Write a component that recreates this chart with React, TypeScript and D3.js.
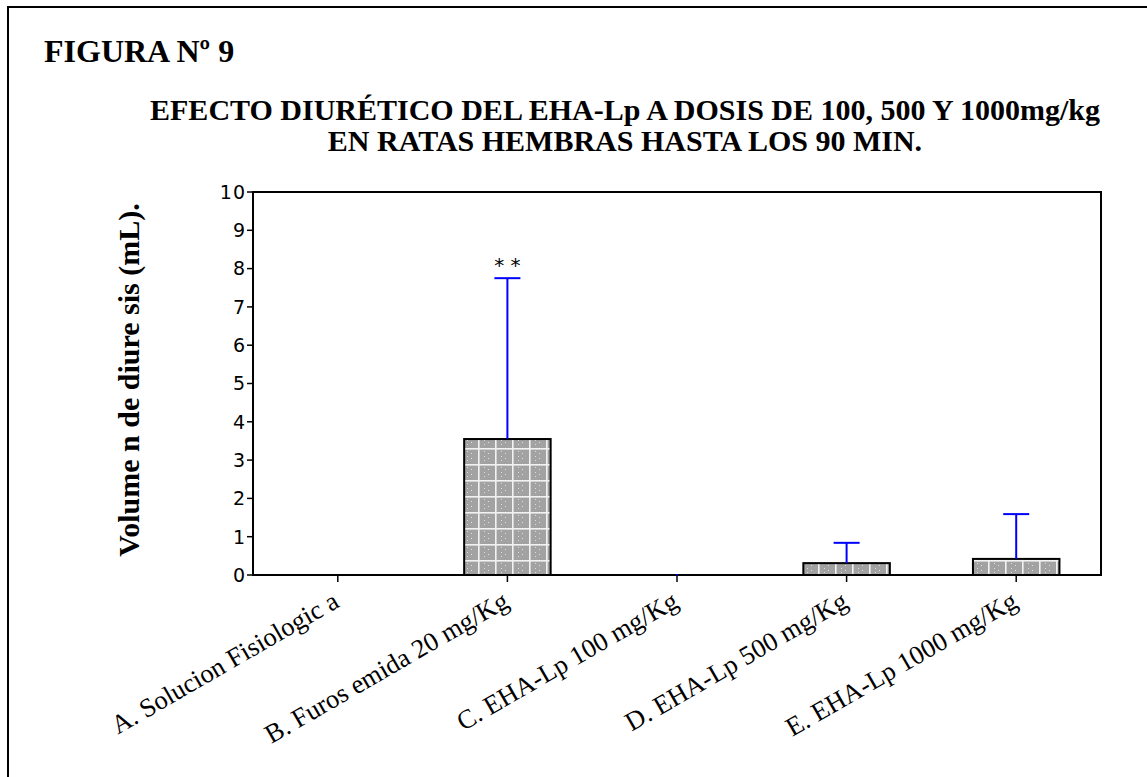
import React from "react";
import * as d3 from "d3";

// Diuretic volume (mL) per treatment group, up to 90 min
const categories = [
  "A. Solucion Fisiologic a",
  "B. Furos emida 20 mg/Kg",
  "C. EHA-Lp 100 mg/Kg",
  "D. EHA-Lp 500 mg/Kg",
  "E. EHA-Lp 1000 mg/Kg",
];
const means = [0, 3.55, 0, 0.31, 0.42];
const errorTops = [0, 7.75, 0, 0.84, 1.59];
const significance = ["", "* *", "", "", ""];
const yTicks = [0, 1, 2, 3, 4, 5, 6, 7, 8, 9, 10];

const W = 1147;
const H = 777;
const M = { left: 253, right: 1101, top: 192, bottom: 575 };

export default function App() {
  const x = d3
    .scaleBand<string>()
    .domain(categories)
    .range([M.left, M.right])
    .paddingInner(0.49)
    .paddingOuter(0.245);
  const y = d3.scaleLinear().domain([0, 10]).range([M.bottom, M.top]);
  const serif = "'Liberation Serif', 'Times New Roman', serif";
  const sans = "'DejaVu Sans', Verdana, sans-serif";

  return (
    <svg
      width={W}
      height={H}
      style={{ position: "absolute", left: 0, top: 0, background: "#fff" }}
    >
      <defs>
        <pattern id="gridFill" width="17" height="16" patternUnits="userSpaceOnUse">
          <rect width="17" height="16" fill="#a2a2a2" />
          <rect x="0" y="0" width="17" height="1.6" fill="#f2f2f2" />
          <rect x="2" y="0" width="1.6" height="16" fill="#f2f2f2" />
          <rect x="8" y="3" width="1" height="1" fill="#dcdcdc" />
          <rect x="8" y="8" width="1" height="1" fill="#dcdcdc" />
          <rect x="8" y="12" width="1" height="1" fill="#dcdcdc" />
          <rect x="12" y="5" width="1" height="1" fill="#e2e2e2" />
          <rect x="12" y="10" width="1" height="1" fill="#e2e2e2" />
        </pattern>
      </defs>

      {/* outer frame */}
      <rect x={8} y={7} width={1160} height={800} fill="none" stroke="#000" strokeWidth={2} />

      <text x={44} y={62} fontFamily={serif} fontWeight="bold" fontSize={32}>
        FIGURA Nº 9
      </text>
      <text x={625} y={120} textAnchor="middle" fontFamily={serif} fontWeight="bold" fontSize={30}>
        EFECTO DIURÉTICO DEL EHA-Lp A DOSIS DE 100, 500 Y 1000mg/kg
      </text>
      <text x={625} y={151} textAnchor="middle" fontFamily={serif} fontWeight="bold" fontSize={30}>
        EN RATAS HEMBRAS HASTA LOS 90 MIN.
      </text>

      {/* y axis label */}
      <text
        transform={`translate(139, 380) rotate(-90)`}
        textAnchor="middle"
        fontFamily={serif}
        fontWeight="bold"
        fontSize={30}
      >
        Volume n de diure sis (mL).
      </text>

      {/* plot frame */}
      <rect
        x={M.left}
        y={M.top}
        width={M.right - M.left}
        height={M.bottom - M.top}
        fill="none"
        stroke="#000"
        strokeWidth={2}
      />

      {/* y ticks */}
      {yTicks.map((t) => (
        <g key={t}>
          <line x1={M.left - 6} x2={M.left} y1={y(t)} y2={y(t)} stroke="#000" strokeWidth={1.5} />
          <text
            x={M.left - 7}
            y={y(t)}
            dy="0.36em"
            textAnchor="end"
            fontFamily={sans}
            fontSize={19}
            letterSpacing={1}
          >
            {t}
          </text>
        </g>
      ))}

      {/* bars */}
      {categories.map((c, i) =>
        means[i] > 0 ? (
          <rect
            key={c}
            x={x(c)!}
            y={y(means[i])}
            width={x.bandwidth()}
            height={y(0) - y(means[i])}
            fill="url(#gridFill)"
            stroke="#000"
            strokeWidth={2}
          />
        ) : null
      )}

      {/* error bars */}
      {categories.map((c, i) => {
        const cx = x(c)! + x.bandwidth() / 2;
        if (errorTops[i] <= 0) {
          return i === 2 ? (
            <rect key={c} x={cx - 1} y={y(0) - 1} width={2} height={2} fill="#0000ff" />
          ) : null;
        }
        return (
          <g key={c} stroke="#0000ff" strokeWidth={2}>
            <line x1={cx} x2={cx} y1={y(means[i])} y2={y(errorTops[i])} />
            <line x1={cx - 13} x2={cx + 13} y1={y(errorTops[i])} y2={y(errorTops[i])} />
          </g>
        );
      })}

      {/* significance marks */}
      {categories.map((c, i) =>
        significance[i] ? (
          <text
            key={c}
            x={x(c)! + x.bandwidth() / 2}
            y={y(errorTops[i]) - 6}
            textAnchor="middle"
            fontFamily={sans}
            fontSize={20}
          >
            {significance[i]}
          </text>
        ) : null
      )}

      {/* x axis ticks and labels */}
      {categories.map((c) => {
        const cx = x(c)! + x.bandwidth() / 2;
        return (
          <g key={c}>
            <line x1={cx} x2={cx} y1={M.bottom} y2={M.bottom + 7} stroke="#000" strokeWidth={1.5} />
            <text
              transform={`translate(${cx + 3}, 606) rotate(-30)`}
              textAnchor="end"
              fontFamily={serif}
              fontSize={26.5}
            >
              {c}
            </text>
          </g>
        );
      })}
    </svg>
  );
}
